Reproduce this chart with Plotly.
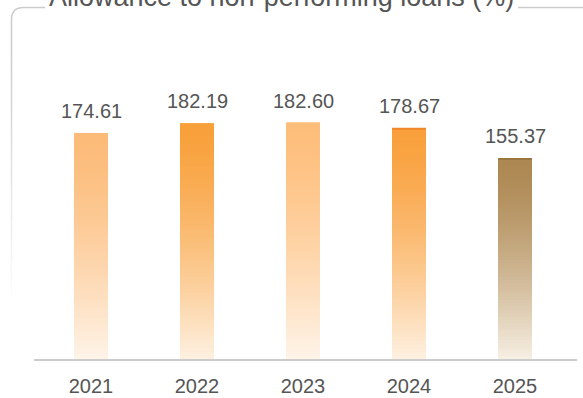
import plotly.graph_objects as go

years = ["2021", "2022", "2023", "2024", "2025"]
values = [174.61, 182.19, 182.60, 178.67, 155.37]
value_labels = ["174.61", "182.19", "182.60", "178.67", "155.37"]
top_colors = ["#FCBB78", "#F8A03A", "#FEBE7B", "#F9A03C", "#AD8852"]
bottom_colors = ["#FEF5EB", "#FEF2E4", "#FEF5EB", "#FEF2E4", "#F8F1E6"]
cap_colors = [None, None, None, "#F08628", "#9C7640"]
title_text = "Allowance to non-performing loans (%)"

W, H = 583, 398
ML, MR, MT, MB = 38, 15, 100, 38
PW, PH = W - ML - MR, H - MT - MB
YMAX = 200


def px_x(p):
    return (p - ML) / PW


def px_y(p):
    return (H - MB - p) / PH


def hex2rgb(h):
    h = h.lstrip("#")
    return tuple(int(h[i:i + 2], 16) for i in (0, 2, 4))


def mix(c1, c2, s):
    a, b = hex2rgb(c1), hex2rgb(c2)
    return "rgb(%d,%d,%d)" % tuple(round(a[i] + (b[i] - a[i]) * s) for i in range(3))


fig = go.Figure()
BW = 0.32
N = 60
cap_units = 2.0 / (PH / YMAX)

# cap layer (full height)
fig.add_trace(go.Bar(
    x=years, y=values, width=BW,
    marker=dict(color=[c if c else t for c, t in zip(cap_colors, top_colors)], line=dict(width=0)),
    hoverinfo="skip", showlegend=False))
# gradient layers
for k in range(N):
    t = k / N
    ys = [(v - (cap_units if c else 0)) * (1 - t) for v, c in zip(values, cap_colors)]
    cols = [mix(tc, bc, t ** 1.4) for tc, bc in zip(top_colors, bottom_colors)]
    fig.add_trace(go.Bar(
        x=years, y=ys, width=BW,
        marker=dict(color=cols, line=dict(width=0)),
        hoverinfo="skip", showlegend=False))

# value labels (x given as category index)
for i, (v, lab) in enumerate(zip(values, value_labels)):
    fig.add_annotation(x=i, y=v, text=lab, showarrow=False, yanchor="bottom",
                       yshift=9, font=dict(size=20, color="#555555", family="Liberation Sans"))

# axis baseline
fig.add_shape(type="line", xref="paper", yref="paper",
              x0=px_x(34), x1=px_x(577), y0=0, y1=0,
              line=dict(color="#CCCCCC", width=2))

# frame: top-left rounded corner and fading left edge
fx, fy, r = 11.5, 7.5, 12
path = "M %f %f L %f %f Q %f %f %f %f L %f %f" % (
    px_x(fx), px_y(60), px_x(fx), px_y(fy + r), px_x(fx), px_y(fy),
    px_x(fx + r), px_y(fy), px_x(45), px_y(fy))
fig.add_shape(type="path", xref="paper", yref="paper", path=path,
              line=dict(color="#CCCCCC", width=1.5))
segs = 25
for i in range(segs):
    y0 = 60 + (310 - 60) * i / segs
    y1 = 60 + (310 - 60) * (i + 1) / segs
    op = 1 - (i + 0.5) / segs
    fig.add_shape(type="line", xref="paper", yref="paper",
                  x0=px_x(fx), x1=px_x(fx), y0=px_y(y0), y1=px_y(y1),
                  line=dict(color="rgba(204,204,204,%.3f)" % op, width=1.5))
fig.add_shape(type="line", xref="paper", yref="paper",
              x0=px_x(518), x1=px_x(590), y0=px_y(fy), y1=px_y(fy),
              line=dict(color="#CCCCCC", width=1.5))

# title
fig.add_annotation(xref="paper", yref="paper", x=px_x(47), y=px_y(-3.5),
                   xanchor="left", yanchor="middle", showarrow=False,
                   text=title_text,
                   font=dict(size=27, color="#555555", family="Liberation Sans"))

fig.update_layout(
    width=W, height=H, barmode="overlay",
    margin=dict(l=ML, r=MR, t=MT, b=MB),
    paper_bgcolor="white", plot_bgcolor="white",
    xaxis=dict(type="category", range=[-0.5, len(years) - 0.5], automargin=False,
               showgrid=False, showline=False, zeroline=False, ticks="",
               tickfont=dict(size=20, color="#555555", family="Liberation Sans"),
               ticklabelstandoff=12),
    yaxis=dict(visible=False, range=[0, YMAX], automargin=False),
)

fig.write_html("out.html")
